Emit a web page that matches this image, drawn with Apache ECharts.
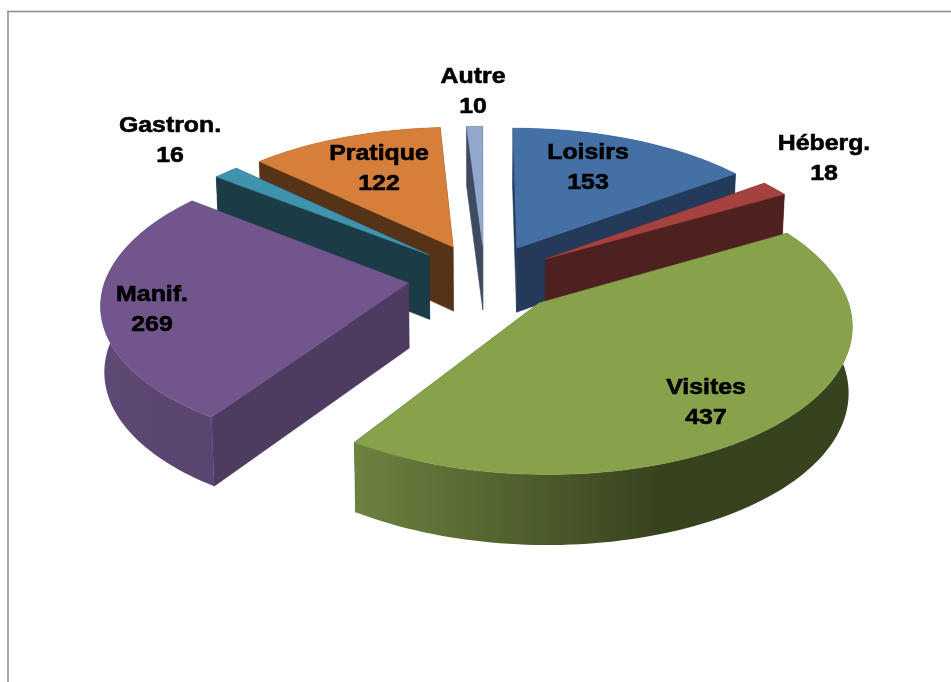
<!DOCTYPE html>
<html>
<head>
<meta charset="utf-8">
<title>Pie</title>
<script src="https://cdn.jsdelivr.net/npm/echarts@6/dist/echarts.min.js"></script>
<style>
    html, body { margin: 0; padding: 0; background: #fff; }
    #chart { width: 951px; height: 682px; }
</style>
</head>
<body>
<div id="chart"></div>
<script>
    var categories = ['Loisirs', 'Héberg.', 'Visites', 'Manif.', 'Gastron.', 'Pratique', 'Autre'];
    var values = [153, 18, 437, 269, 16, 122, 10];

    // look of each slice, same order as categories
    var topColors = ['#4470a5', '#a5413f', '#87a24b', '#71558c', '#3f93ac', '#d67f3b', '#93a8cf'];
    var cutColors = ['#243a5a', '#4e2020', '#37421e', '#4d3b60', '#1b3b47', '#563217', '#3e4a60'];
    var rimColors = [
        ['#2a4468', '#243a5a'],
        ['#4e2020', '#4e2020'],
        ['#6d8240', '#37421e'],
        ['#5f4a77', '#5a4570'],
        ['#1b3b47', '#1b3b47'],
        ['#563217', '#563217'],
        ['#3e4a60', '#3e4a60']
    ];
    // how far each slice was pulled out of the pie, in radii
    var pullX = [0.122, 0.218, 0.188, -0.239, -0.175, -0.095, 0.006];
    var pullY = [0.202, 0.122, -0.186, -0.049, 0.151, 0.21, 0.22];
    var labelPos = [[588, 168], [824, 159], [706, 403], [152, 310], [170, 141], [379, 169], [473, 92]];

    // fake 3D camera
    var cx = 481, cy = 276, R = 302, squash = 0.47, persp = 0.128, depth = 65, shrink = 0.99;

    function project(x, y, down) {
        var s = 1 / (1 + persp * y);
        var px = R * x * s;
        var py = -R * squash * y * s;
        if (down) {
            px *= shrink;
            py += depth * Math.sqrt(s);
        }
        return [cx + px, cy + py];
    }

    var total = values.reduce(function (a, b) { return a + b; }, 0);
    var slices = [];
    var acc = 0;
    values.forEach(function (v, i) {
        var a0 = acc / total * Math.PI * 2;
        acc += v;
        var a1 = acc / total * Math.PI * 2;
        slices.push({ index: i, a0: a0, a1: a1, ox: pullX[i], oy: pullY[i] });
    });

    // far slices first so the near ones cover them
    var order = slices.slice().sort(function (a, b) { return b.oy - a.oy; });

    function slicePoints(sl, down) {
        var arc = [];
        var steps = Math.max(4, Math.round((sl.a1 - sl.a0) * 40));
        for (var k = 0; k <= steps; k++) {
            var a = sl.a0 + (sl.a1 - sl.a0) * k / steps;
            arc.push(project(sl.ox + Math.sin(a), sl.oy + Math.cos(a), down));
        }
        return arc;
    }

    function poly(points, fill, z) {
        return {
            type: 'polygon',
            shape: { points: points },
            z2: z,
            style: { fill: fill, stroke: typeof fill === 'string' ? fill : null, lineWidth: 0.5 }
        };
    }

    function renderSlice(params, api) {
        var sl = order[api.value(0)];
        var i = sl.index;
        var z = api.value(0) * 4;
        var top = slicePoints(sl, false);
        var bottom = slicePoints(sl, true);
        var apexTop = project(sl.ox, sl.oy, false);
        var apexBottom = project(sl.ox, sl.oy, true);
        var last = top.length - 1;

        var xs = top.concat(bottom).map(function (p) { return p[0]; });
        var minX = Math.min.apply(null, xs), maxX = Math.max.apply(null, xs);
        var rim = {
            type: 'linear', global: true, x: minX, y: 0, x2: maxX, y2: 0,
            colorStops: [
                { offset: 0, color: rimColors[i][0] },
                { offset: 0.62, color: rimColors[i][1] },
                { offset: 1, color: rimColors[i][1] }
            ]
        };

        return {
            type: 'group',
            children: [
                poly([apexTop, top[0], bottom[0], apexBottom], cutColors[i], z),
                poly([apexTop, top[last], bottom[last], apexBottom], cutColors[i], z),
                poly(top.concat(bottom.slice().reverse()), rim, z + 1),
                poly([apexTop].concat(top), topColors[i], z + 2),
                {
                    type: 'text',
                    x: labelPos[i][0],
                    y: labelPos[i][1],
                    scaleX: 1.13,
                    z2: 100,
                    style: {
                        x: 0, y: 0,
                        text: categories[i] + '\n' + values[i],
                        font: 'bold 22px "Liberation Sans", Arial, sans-serif',
                        lineHeight: 30,
                        align: 'center',
                        verticalAlign: 'middle',
                        fill: '#000',
                        stroke: '#000',
                        lineWidth: 0.6
                    }
                }
            ]
        };
    }

    var myChart = echarts.init(document.getElementById('chart'), null, { renderer: 'canvas' });
    myChart.setOption({
        backgroundColor: '#fff',
        animation: false,
        graphic: [
            { type: 'line', silent: true, shape: { x1: 7, y1: 11.5, x2: 951, y2: 11.5 }, style: { stroke: '#8c8c8c', lineWidth: 1.5 } },
            { type: 'line', silent: true, shape: { x1: 8, y1: 11, x2: 8, y2: 682 }, style: { stroke: '#8c8c8c', lineWidth: 1.5 } }
        ],
        series: [{
            type: 'custom',
            coordinateSystem: 'none',
            renderItem: renderSlice,
            data: order.map(function (sl, n) { return [n, values[sl.index]]; })
        }]
    });
</script>
</body>
</html>
